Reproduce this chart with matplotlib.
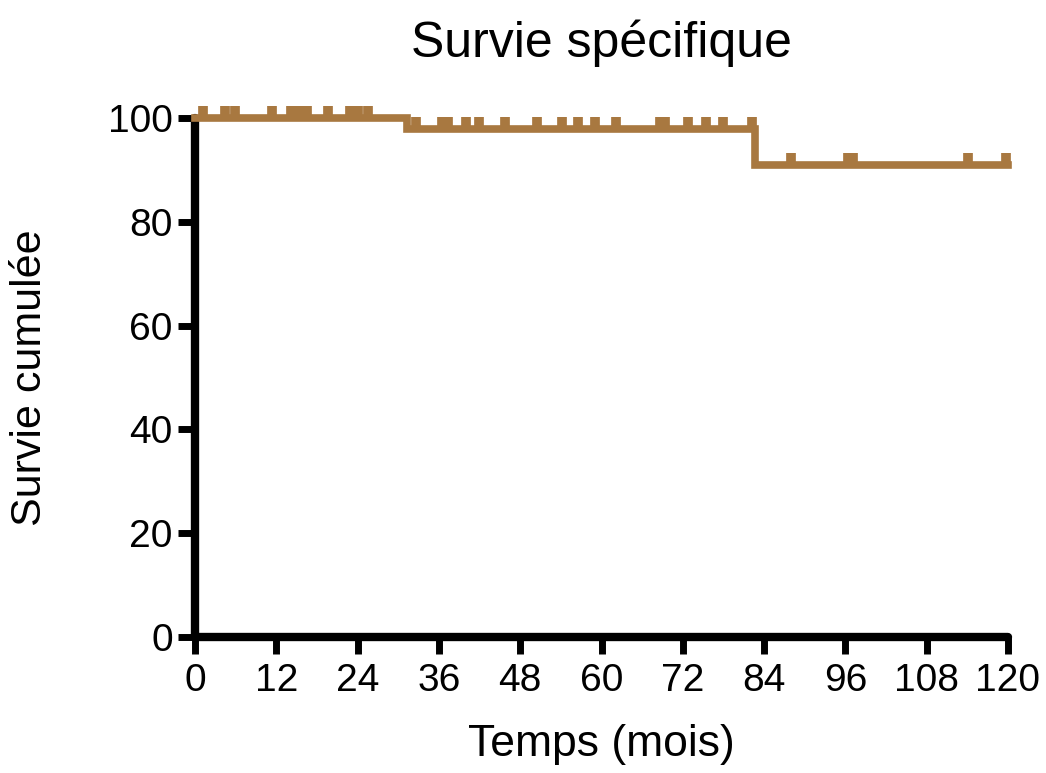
import numpy as np
import matplotlib
matplotlib.use("Agg")
import matplotlib.pyplot as plt

plt.rcParams['font.family'] = ['Liberation Sans', 'DejaVu Sans']

# Kaplan-Meier steps (months, % survival)
step_times = [0, 31.3, 82.7, 120]
step_surv = [100, 97.8, 91.0, 91.0]

# censored observations (months)
censor_times = [1.2, 4.4, 5.9, 11.4, 14.2, 15.4, 16.5, 19.6, 22.9, 24.1, 25.5,
                32.6, 36.5, 37.3, 40.0, 41.9, 45.8, 50.5, 54.2, 56.5, 59.0, 62.1,
                68.6, 69.4, 72.8, 75.4, 77.9, 82.2,
                88.0, 96.4, 97.1, 114.1, 119.7]

xticks = [0, 12, 24, 36, 48, 60, 72, 84, 96, 108, 120]
yticks = [0, 20, 40, 60, 80, 100]

color = '#A87840'

fig = plt.figure(figsize=(10.46, 7.73), dpi=100)
ax = fig.add_axes([195 / 1046, 1 - 637 / 773, (1008 - 195) / 1046, (637 - 118) / 773])

ax.step(step_times, step_surv, where='post', color=color, lw=5.5,
        solid_joinstyle='miter', clip_on=False, zorder=3)

# censor marks sit on the curve
censor_surv = []
for t in censor_times:
    censor_surv.append(step_surv[np.searchsorted(step_times, t, side='right') - 1])
ax.plot(censor_times, censor_surv, linestyle='none', marker=2, markersize=8.5,
        markeredgewidth=7, color=color, clip_on=False, zorder=3)

ax.set_xlim(0, 120)
ax.set_ylim(0, 100)
ax.set_xticks(xticks)
ax.set_yticks(yticks)
ax.tick_params(labelsize=28, width=5, length=12, color='black')
ax.tick_params(axis='x', pad=7)
ax.tick_params(axis='y', pad=4)

for side in ['top', 'right']:
    ax.spines[side].set_visible(False)
for side in ['left', 'bottom']:
    ax.spines[side].set_linewidth(6)
    ax.spines[side].set_capstyle('round')

ax.set_title('Survie spécifique', fontsize=36, pad=44)
ax.set_xlabel('Temps (mois)', fontsize=32, labelpad=18)
ax.set_ylabel('Survie cumulée', fontsize=31, labelpad=42)

fig.savefig('out.png', dpi=100)
